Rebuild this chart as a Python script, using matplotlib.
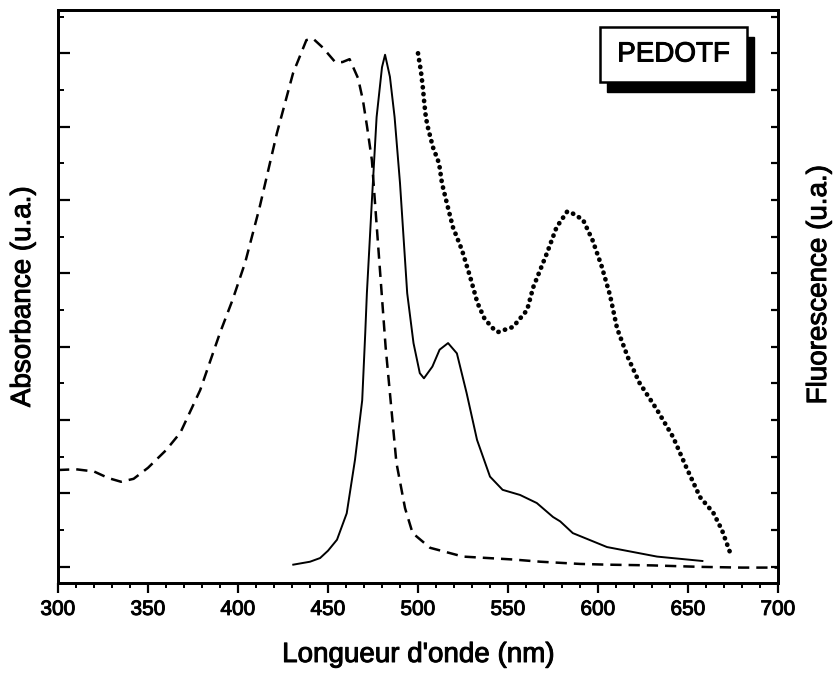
import numpy as np
import matplotlib
matplotlib.use("Agg")
import matplotlib.pyplot as plt
import matplotlib.patheffects as pe
from matplotlib.patches import Rectangle
from matplotlib.ticker import MultipleLocator, NullFormatter

plt.rcParams['font.family'] = ['Liberation Sans', 'DejaVu Sans']

# absorbance spectrum (dashed)
abs_x = [300, 310, 320, 328, 335, 342, 350, 360, 368, 379, 390, 397, 404, 412,
         421.6, 430.6, 438, 441.7, 447, 454, 458, 462, 466.7, 469.4, 471.7, 474.4,
         476, 482, 488, 492.8, 497, 506.7, 525, 553, 568, 590, 605, 630, 656.7, 680, 700]
abs_y = [1.32, 1.33, 1.30, 1.21, 1.16, 1.20, 1.35, 1.59, 1.83, 2.41, 3.19, 3.64, 4.15, 4.90,
         5.91, 6.73, 7.18, 7.20, 7.08, 6.88, 6.88, 6.92, 6.66, 6.36, 6.00, 5.54,
         5.00, 3.00, 1.42, 0.80, 0.46, 0.26, 0.14, 0.10, 0.07, 0.04, 0.03, 0.02, 0.00, -0.01, -0.01]

# excitation / solid curve
sol_x = [430.7, 440, 445.6, 450, 455, 460.4, 465, 469, 470.7, 471.6, 474.4, 477, 480, 481.7,
         484.4, 487, 490, 494, 497.5, 501, 503.3, 508, 512, 516.7, 521.6, 527, 532.8, 540,
         547, 556.7, 566, 575, 579, 586, 605, 632.8, 658]
sol_y = [0.03, 0.07, 0.12, 0.22, 0.37, 0.73, 1.46, 2.27, 3.19, 3.73, 5.00, 6.13, 6.81, 6.98,
         6.68, 6.13, 5.23, 3.73, 3.05, 2.64, 2.57, 2.73, 2.96, 3.05, 2.91, 2.37, 1.73, 1.23,
         1.05, 0.98, 0.87, 0.68, 0.62, 0.46, 0.27, 0.14, 0.08]

# fluorescence emission (dotted)
flu_x = [500, 501.6, 502.8, 503.5, 504.4, 505.6, 508.3, 511.7, 513.3, 516, 519.4, 524.4, 529,
         533, 537, 541.7, 544.4, 552.8, 560.6, 564, 571.7, 577, 582.8, 584.4, 591.7, 597, 602,
         606.7, 610.6, 616.7, 623, 632.8, 641.7, 649, 656.7, 664, 668.9, 673.3]
flu_y = [7.00, 6.76, 6.51, 6.32, 6.12, 5.98, 5.72, 5.50, 5.23, 4.96, 4.63, 4.32, 3.95,
         3.60, 3.38, 3.25, 3.20, 3.27, 3.50, 3.81, 4.28, 4.63, 4.84, 4.84, 4.73, 4.45, 4.10,
         3.70, 3.25, 2.85, 2.51, 2.14, 1.77, 1.36, 0.95, 0.74, 0.50, 0.20]

W, H = 835, 675
heavy = [pe.withStroke(linewidth=0.7, foreground='black')]

fig = plt.figure(figsize=(W / 100, H / 100), dpi=100)
ax = fig.add_axes([58 / W, 1 - 583 / H, 720 / W, 573 / H])

ax.plot(abs_x, abs_y, color='black', lw=1.8, linestyle=(0, (4.5, 2.8)))
ax.plot(sol_x, sol_y, color='black', lw=1.4)
ax.plot(flu_x, flu_y, color='black', lw=3.4, linestyle=(0, (0.05, 1.4)),
        dash_capstyle='round', solid_capstyle='round')

ax.set_xlim(300, 700)
ax.set_ylim(-0.22, 7.59)
ax.xaxis.set_major_locator(MultipleLocator(50))
ax.xaxis.set_minor_locator(MultipleLocator(10))
ax.yaxis.set_major_locator(MultipleLocator(1))
ax.yaxis.set_minor_locator(MultipleLocator(0.5))
ax.yaxis.set_major_formatter(NullFormatter())

ax.tick_params(axis='x', which='major', direction='out', length=7.2, width=1.6,
               labelsize=15, pad=5)
ax.tick_params(axis='x', which='minor', direction='out', length=3.6, width=1.4)
ax.tick_params(axis='y', which='major', direction='in', length=8.6, width=1.6)
ax.tick_params(axis='y', which='minor', direction='in', length=4.3, width=1.4)
for sp in ax.spines.values():
    sp.set_linewidth(2.0)
for lbl in ax.get_xticklabels():
    lbl.set_path_effects(heavy)

ax2 = ax.twinx()
ax2.set_ylim(ax.get_ylim())
ax2.yaxis.set_major_locator(MultipleLocator(0.5))
ax2.yaxis.set_major_formatter(NullFormatter())
ax2.tick_params(axis='y', direction='in', length=5, width=1.6)
for sp in ax2.spines.values():
    sp.set_linewidth(2.0)

# axis titles placed in pixel positions of the original
fig.text(418 / W, 1 - 655 / H, "Longueur d'onde (nm)", fontsize=20,
         ha='center', va='center', path_effects=heavy)
fig.text(23 / W, 1 - 297 / H, "Absorbance (u.a.)", fontsize=20,
         ha='center', va='center', rotation=90, path_effects=heavy)
fig.text(819 / W, 1 - 285 / H, "Fluorescence (u.a.)", fontsize=20,
         ha='center', va='center', rotation=90, path_effects=heavy)

# label box with drop shadow
bx, by, bw, bh = 600, 27, 147, 55
fig.patches.append(Rectangle(((bx + 7) / W, 1 - (by + bh + 10) / H), bw / W, bh / H,
                             transform=fig.transFigure, facecolor='black',
                             edgecolor='black', zorder=5))
fig.patches.append(Rectangle((bx / W, 1 - (by + bh) / H), bw / W, bh / H,
                             transform=fig.transFigure, facecolor='white',
                             edgecolor='black', lw=1.8, zorder=6))
fig.text((bx + bw / 2) / W, 1 - (by + bh / 2) / H, "PEDOTF", fontsize=20,
         ha='center', va='center', zorder=7, path_effects=heavy)

fig.savefig("out.png", dpi=100)
